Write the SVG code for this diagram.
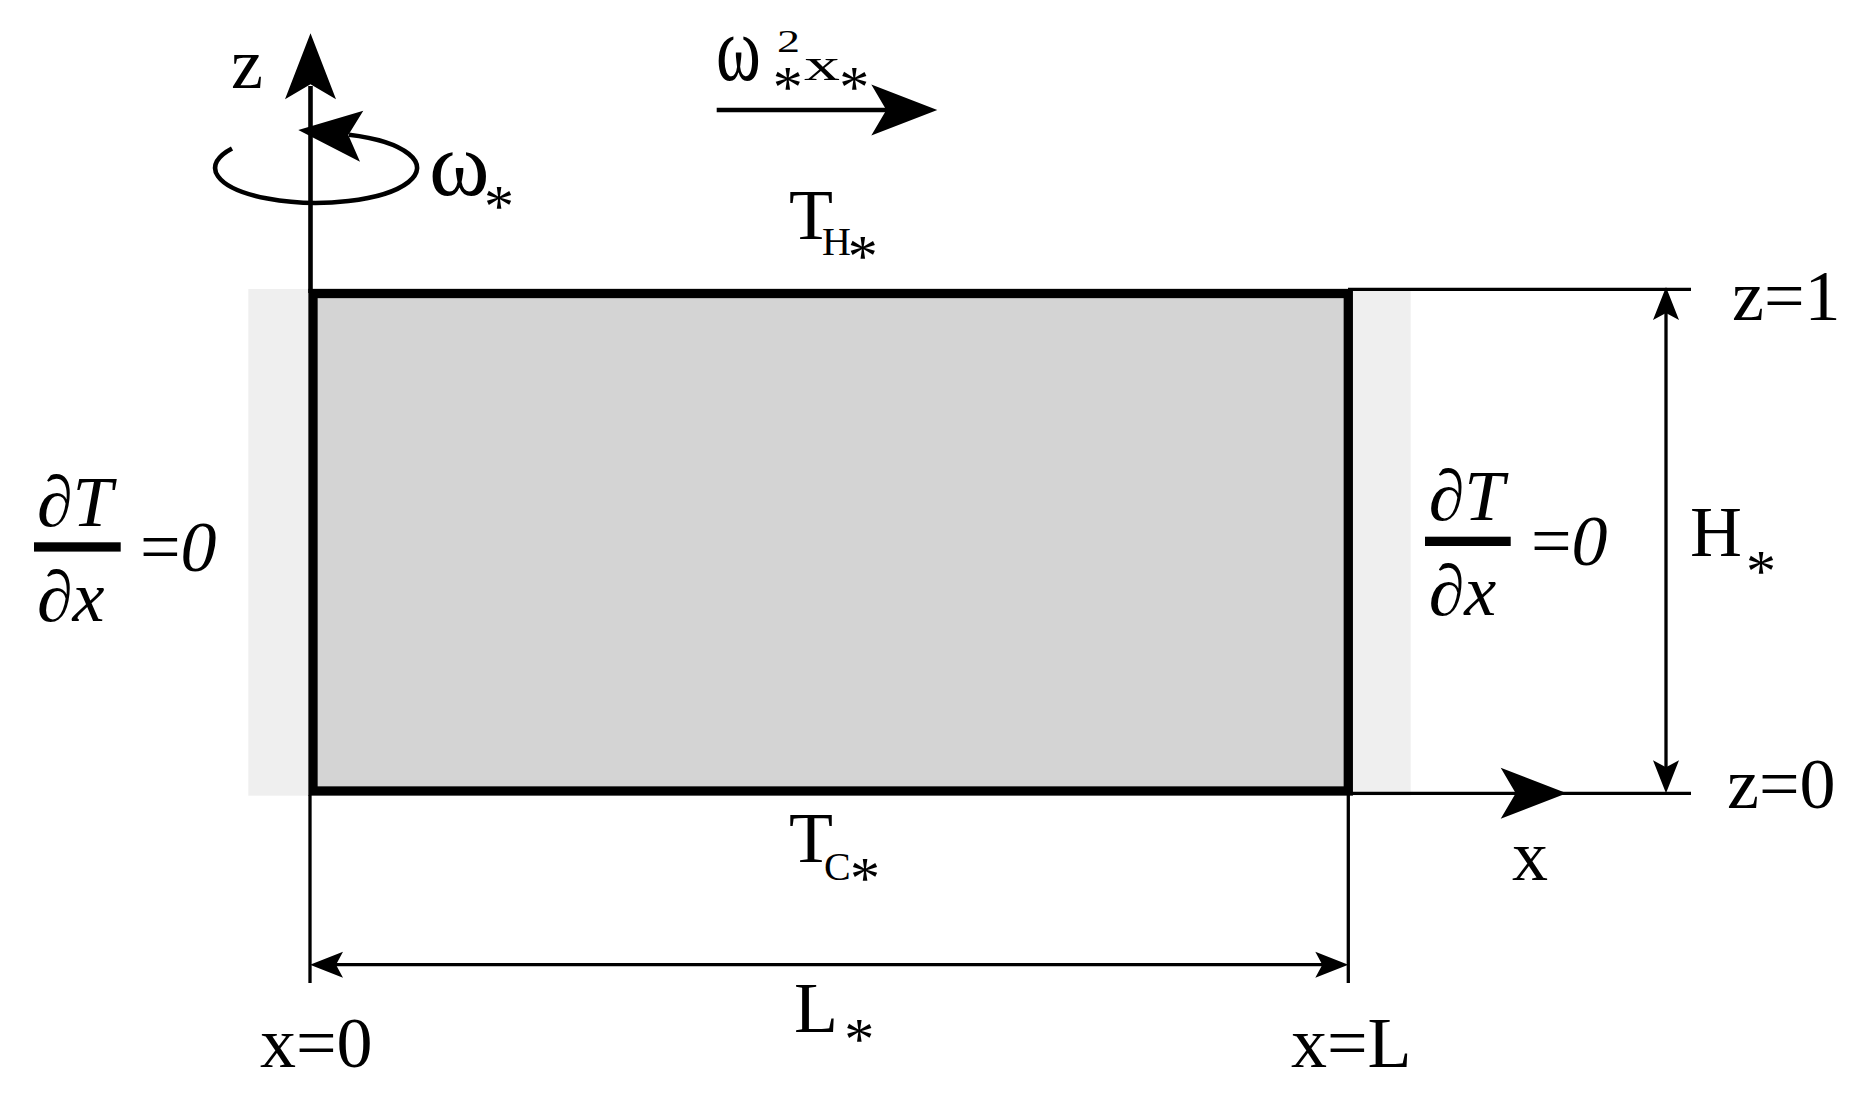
<svg xmlns="http://www.w3.org/2000/svg" xmlns:xlink="http://www.w3.org/1999/xlink" width="1868" height="1101" viewBox="0 0 1868 1101">
<style>
  .t { font-family: "Liberation Serif", "Times New Roman", serif; fill: #000; }
  .m { font-size: 72px; }
  .it { font-style: italic; }
  .ast { font-size: 60px; font-style: normal; }
  .sub { font-size: 40px; }
  .thin { stroke: #000; stroke-width: 3.3; fill: none; }
  .axis { stroke: #000; stroke-width: 4.6; fill: none; }
  .head { fill: #000; stroke: none; }
</style>
<defs>
  <path id="bigHead" d="M0,0 L-66,-25.5 L-51,0 L-66,25.5 Z"/>
  <path id="smallHead" d="M0,0 L-33,-13 L-26,0 L-33,13 Z"/>
</defs>
<rect width="1868" height="1101" fill="#fff"/>

<g id="side-strips">
  <rect x="248.3" y="289" width="60" height="506.7" fill="#efefef"/>
  <rect x="1352.7" y="289" width="58" height="506.7" fill="#efefef"/>
</g>

<g id="domain">
  <rect x="313" y="293.5" width="1035.3" height="497.5" fill="#d4d4d4" stroke="#000" stroke-width="9.3"/>
</g>

<g id="connectors">
  <!-- z axis -->
  <line class="axis" x1="310.5" y1="86" x2="310.5" y2="293"/>
  <use href="#bigHead" class="head" transform="translate(310.5,33.3) rotate(-90)"/>
  <!-- rotation -->
  <path class="axis" stroke-width="4" d="M232,148.5 A101 35 0 1 0 349,134.8"/>
  <path class="head" d="M298.3,130 L363.3,110.7 L348.3,135 L360,161.7 Z"/>
  <!-- centrifugal arrow -->
  <line class="axis" stroke-width="5" x1="716.7" y1="110" x2="888" y2="110"/>
  <use href="#bigHead" class="head" transform="translate(937.3,110)"/>
  <!-- z=1 line -->
  <line class="thin" x1="1348" y1="289.3" x2="1691" y2="289.3"/>
  <!-- x axis / z=0 line -->
  <line class="thin" x1="1348" y1="793.3" x2="1691" y2="793.3"/>
  <use href="#bigHead" class="head" transform="translate(1566.7,793.3)"/>
  <!-- H dimension -->
  <line class="thin" x1="1666" y1="312" x2="1666" y2="768"/>
  <use href="#smallHead" class="head" transform="translate(1666,287) rotate(-90)"/>
  <use href="#smallHead" class="head" transform="translate(1666,793.3) rotate(90)"/>
  <!-- extension ticks -->
  <line class="thin" x1="310" y1="795" x2="310" y2="983"/>
  <line class="thin" x1="1348.3" y1="795" x2="1348.3" y2="983"/>
  <!-- L dimension -->
  <line class="thin" x1="335" y1="964.7" x2="1323" y2="964.7"/>
  <use href="#smallHead" class="head" transform="translate(310,964.7) rotate(180)"/>
  <use href="#smallHead" class="head" transform="translate(1348.3,964.7)"/>
</g>

<g id="fraction-left">
  <text class="t m" x="37" y="525.7">∂<tspan class="it">T</tspan></text>
  <rect x="34" y="542.3" width="86.7" height="9.3" fill="#000"/>
  <text class="t m" x="37" y="620.7">∂<tspan class="it">x</tspan></text>
  <text class="t m" x="140" y="570.7">=<tspan class="it">0</tspan></text>
</g>

<g id="fraction-right">
  <text class="t m" x="1428.7" y="520">∂<tspan class="it">T</tspan></text>
  <rect x="1425" y="536.7" width="85.7" height="9.3" fill="#000"/>
  <text class="t m" x="1428.7" y="615">∂<tspan class="it">x</tspan></text>
  <text class="t m" x="1531" y="565">=<tspan class="it">0</tspan></text>
</g>

<g id="label-rotation">
  <text class="t" style="font-size:92px" x="429" y="195">ω</text>
  <text class="t ast" x="484" y="225.6">*</text>
</g>

<g id="label-centrifugal">
  <text class="t" style="font-size:68px" transform="translate(716,80) scale(1,1.38)">ω</text>
  <text class="t" style="font-size:46px" transform="translate(777,52) scale(1,0.7)">2</text>
  <text class="t ast" x="772.7" y="106.6">*</text>
  <text class="t m" transform="translate(804,80) scale(1,0.65)">x</text>
  <text class="t ast" x="839.3" y="106.6">*</text>
</g>

<g id="labels">
  <text class="t m" x="231" y="88">z</text>
  <text class="t m" x="789" y="239">T<tspan class="sub" x="822" y="255">H</tspan><tspan class="ast" x="847.7" y="275.6">*</tspan></text>
  <text class="t m" x="789" y="861.7">T<tspan class="sub" x="824" y="880">C</tspan><tspan class="ast" x="850" y="897.9">*</tspan></text>
  <text class="t m" x="794" y="1031.7">L<tspan class="ast" x="844.3" y="1058.9">*</tspan></text>
  <text class="t m" x="1690" y="556">H<tspan class="ast" x="1746" y="590.6">*</tspan></text>
  <text class="t m" x="1732" y="320">z=1</text>
  <text class="t m" x="1727" y="808.3">z=0</text>
  <text class="t m" x="1512" y="880">x</text>
  <text class="t m" x="260" y="1067">x=0</text>
  <text class="t m" x="1291" y="1067">x=L</text>
</g>
</svg>
